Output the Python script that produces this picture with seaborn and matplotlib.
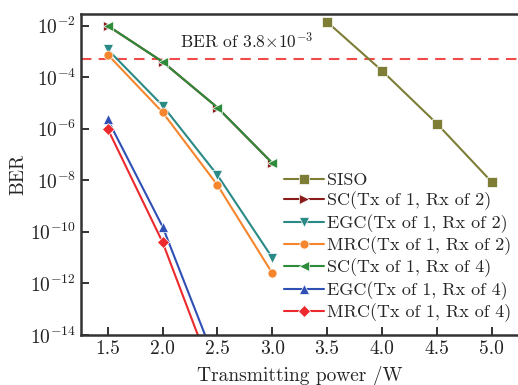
import numpy as np
import pandas as pd
import matplotlib
matplotlib.use("Agg")
import matplotlib.pyplot as plt
import seaborn as sns

# ---- data ----
siso_x = [3.5, 4.0, 4.5, 5.0]
siso_y = [1.4e-2, 1.8e-4, 1.6e-6, 8.7e-9]

p_x = [1.5, 2.0, 2.5, 3.0]
sc2_y = [1.0e-2, 4.0e-4, 6.7e-6, 4.7e-8]
egc2_y = [1.2e-3, 8.0e-6, 1.6e-8, 1.0e-11]
mrc2_y = [7.6e-4, 4.4e-6, 6.6e-9, 2.5e-12]
sc4_y = [1.0e-2, 4.0e-4, 6.7e-6, 4.7e-8]

p4_x = [1.5, 2.0, 2.5]
egc4_y = [2.3e-6, 1.6e-10, 6e-16]
mrc4_y = [1.0e-6, 4.0e-11, 1e-16]

threshold = 4.9e-4
labels = ["SISO",
          "SC(Tx of 1, Rx of 2)",
          "EGC(Tx of 1, Rx of 2)",
          "MRC(Tx of 1, Rx of 2)",
          "SC(Tx of 1, Rx of 4)",
          "EGC(Tx of 1, Rx of 4)",
          "MRC(Tx of 1, Rx of 4)"]
colors = ["#7d7d36", "#8b1c1c", "#2a8a86", "#f5862e",
          "#2e8b3a", "#2f4fb5", "#ec2a2e"]
markers = ["s", ">", "v", "o", "<", "^", "D"]
xticks = [1.5, 2.0, 2.5, 3.0, 3.5, 4.0, 4.5, 5.0]
yticks = [1e-2, 1e-4, 1e-6, 1e-8, 1e-10, 1e-12, 1e-14]

series = [(siso_x, siso_y), (p_x, sc2_y), (p_x, egc2_y), (p_x, mrc2_y),
          (p_x, sc4_y), (p4_x, egc4_y), (p4_x, mrc4_y)]
rows = []
for lab, (xs, ys) in zip(labels, series):
    for x, y in zip(xs, ys):
        rows.append({"P": x, "BER": y, "series": lab})
df = pd.DataFrame(rows)

sns.set_style("ticks")
plt.rcParams.update({
    "font.family": "serif",
    "font.serif": ["cmr10", "DejaVu Serif"],
    "mathtext.fontset": "cm",
    "axes.formatter.use_mathtext": True,
    "axes.unicode_minus": False,
})

fig = plt.figure(figsize=(5.18, 3.85), dpi=100)
ax = fig.add_axes([0.156, 0.13, 0.844, 0.834])

sns.lineplot(data=df, x="P", y="BER", hue="series", style="series",
             hue_order=labels, style_order=labels,
             palette=dict(zip(labels, colors)),
             markers=dict(zip(labels, markers)),
             dashes=False, markersize=6.5, markeredgewidth=0.5,
             linewidth=1.5, ax=ax, legend="full")

ax.axhline(threshold, color="#f04a4a", linestyle=(0, (5, 3.5)), linewidth=1.5, zorder=1)
ax.text(2.155, threshold * 2.0, r"BER of 3.8$\times$10$^{-3}$", fontsize=12.5,
        ha="left", va="bottom", color="#222222")

ax.set_yscale("log")
ax.set_ylim(1e-14, 10 ** -1.54)
ax.set_xlim(1.255, 5.24)
ax.set_xticks(xticks)
ax.set_xticklabels([f"{v:.1f}" for v in xticks])
ax.set_yticks(yticks)
ax.set_yticklabels([r"$10^{%d}$" % int(round(np.log10(v))) for v in yticks])
ax.minorticks_off()
ax.tick_params(direction="in", length=6, width=1.3, labelsize=14, colors="#222222")
for s in ["left", "bottom", "top"]:
    ax.spines[s].set_linewidth(1.8)
    ax.spines[s].set_color("#333333")
ax.spines["right"].set_visible(False)

ax.set_xlabel("Transmitting power /W", fontsize=14, labelpad=6)
ax.set_ylabel("BER", fontsize=14, labelpad=2)

leg = ax.legend(loc="lower right", bbox_to_anchor=(0.985, 0.04), frameon=False,
                fontsize=13, handlelength=2.2, handletextpad=0.2,
                labelspacing=0.2, borderaxespad=0.0, borderpad=0.0)

fig.savefig("out.png", dpi=100)
